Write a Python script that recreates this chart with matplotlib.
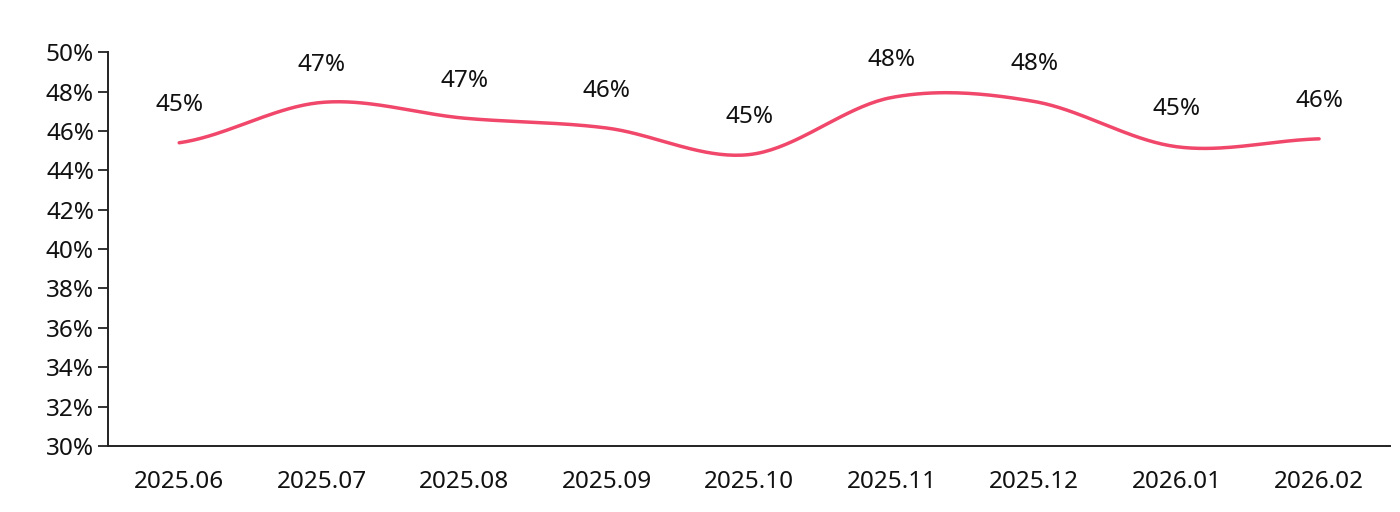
import numpy as np
import matplotlib.pyplot as plt

months = ['2025.06', '2025.07', '2025.08', '2025.09', '2025.10',
          '2025.11', '2025.12', '2026.01', '2026.02']
rates = [45.4, 47.45, 46.65, 46.15, 44.8, 47.7, 47.5, 45.2, 45.6]
yticks = list(range(30, 51, 2))

plt.rcParams['font.family'] = ['Noto Sans', 'DejaVu Sans']

line_color = '#F0476A'

# smooth curve through the points (Catmull-Rom style hermite)
x = np.arange(len(months), dtype=float)
y = np.array(rates)
tang = np.zeros_like(y)
tang[1:-1] = (y[2:] - y[:-2]) / 2
tang[0] = (y[1] - y[0]) * 0.5
tang[-1] = (y[-1] - y[-2]) * 0.5
xs, ys = [], []
for i in range(len(x) - 1):
    t = np.linspace(0, 1, 40)
    h00 = 2 * t**3 - 3 * t**2 + 1
    h10 = t**3 - 2 * t**2 + t
    h01 = -2 * t**3 + 3 * t**2
    h11 = t**3 - t**2
    xs.append(x[i] + t)
    ys.append(h00 * y[i] + h10 * tang[i] + h01 * y[i + 1] + h11 * tang[i + 1])
xs = np.concatenate(xs)
ys = np.concatenate(ys)

fig = plt.figure(figsize=(14, 5.12), dpi=100)
ax = fig.add_axes([0.0771, 0.129, 0.916, 0.769])

ax.plot(xs, ys, color=line_color, linewidth=2.5, solid_capstyle='round')

fs = 17.5
for xi, v in zip(x, rates):
    ax.annotate(f'{round(v)}%', (xi, v), xytext=(0, 27), textcoords='offset points',
                ha='center', va='center', fontsize=fs, color='#111111')

ax.set_xlim(-0.5, len(months) - 0.5)
ax.set_ylim(30, 50)
ax.set_xticks(x)
ax.set_xticklabels(months)
ax.set_yticks(yticks)
ax.set_yticklabels([f'{t}%' for t in yticks])
ax.tick_params(axis='x', length=0, pad=17, labelsize=fs, colors='#111111')
ax.tick_params(axis='y', length=7, width=1.2, pad=3, labelsize=fs, colors='#111111')
for side in ['top', 'right']:
    ax.spines[side].set_visible(False)
for side in ['left', 'bottom']:
    ax.spines[side].set_linewidth(1.4)
    ax.spines[side].set_color('#222222')

fig.savefig('out.png', dpi=100)
